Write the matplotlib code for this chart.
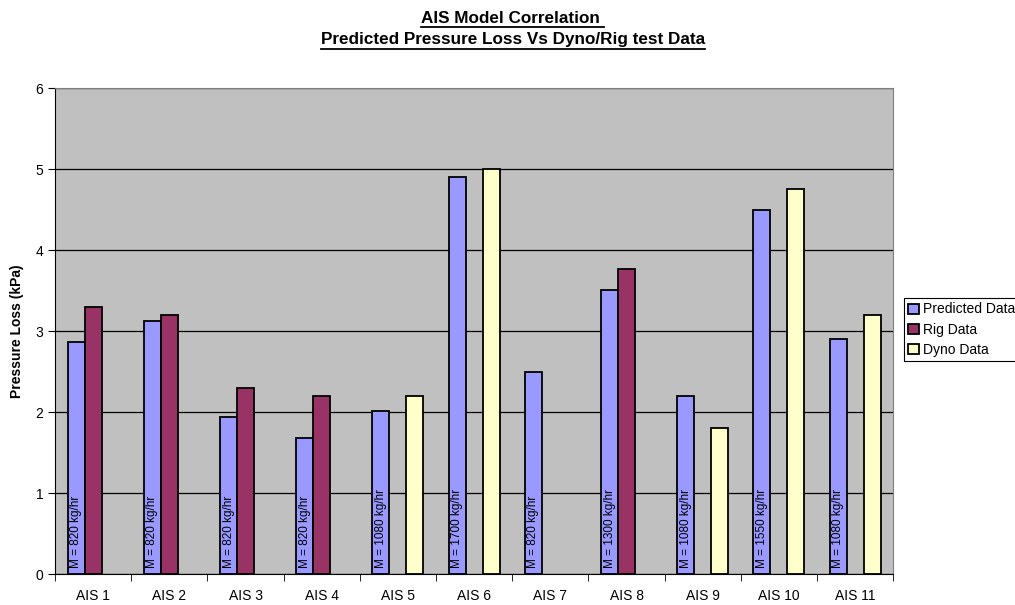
import numpy as np
import matplotlib.pyplot as plt
from matplotlib.lines import Line2D

plt.rcParams['font.family'] = ['Liberation Sans', 'DejaVu Sans']

# Data
categories = ["AIS 1", "AIS 2", "AIS 3", "AIS 4", "AIS 5", "AIS 6",
              "AIS 7", "AIS 8", "AIS 9", "AIS 10", "AIS 11"]
predicted = [2.86, 3.12, 1.94, 1.68, 2.01, 4.9, 2.5, 3.51, 2.2, 4.5, 2.9]
rig = [3.3, 3.2, 2.3, 2.2, None, None, None, 3.77, None, None, None]
dyno = [None, None, None, None, 2.2, 5.0, None, None, 1.8, 4.75, 3.2]
mass_flow = ["820", "820", "820", "820", "1080", "1700",
             "820", "1300", "1080", "1550", "1080"]

series = [("Predicted Data", predicted, "#9999FF"),
          ("Rig Data", rig, "#993366"),
          ("Dyno Data", dyno, "#FFFFCC")]


def main():
    fig = plt.figure(figsize=(10.15, 6.05), dpi=100)
    ax = fig.add_axes([0.0542, 0.0512, 0.8258, 0.8033])
    ax.set_facecolor("#C0C0C0")

    x = np.arange(len(categories))
    width = 0.223
    for i, (name, vals, color) in enumerate(series):
        xs = [xi + (i - 1) * width for xi, v in zip(x, vals) if v is not None]
        ys = [v for v in vals if v is not None]
        ax.bar(xs, ys, width=width, color=color, edgecolor="black",
               linewidth=1.3, label=name, zorder=3)

    # mass flow labels inside predicted bars
    for xi, m in zip(x, mass_flow):
        ax.text(xi - width, 0.07, f"M = {m} kg/hr", rotation=90,
                ha="center", va="bottom", fontsize=8.5, zorder=4)

    ax.set_xlim(-0.5, len(categories) - 0.5)
    ax.set_ylim(0, 6)
    ax.set_yticks(range(7))
    ax.yaxis.grid(True, color="black", linewidth=0.9, zorder=0)
    ax.set_axisbelow(True)

    ax.set_xticks(x)
    ax.set_xticklabels(categories, fontsize=10)
    ax.set_xticks(np.arange(-0.5, len(categories)), minor=True)
    ax.tick_params(axis="x", which="major", length=0, pad=11)
    ax.tick_params(axis="x", which="minor", length=5, direction="out")
    ax.tick_params(axis="y", labelsize=10, length=5, direction="out")

    for side in ("top", "right"):
        ax.spines[side].set_color("#808080")
    ax.spines["left"].set_color("black")
    ax.spines["bottom"].set_color("black")

    ax.set_ylabel("Pressure Loss (kPa)", fontsize=10, fontweight="bold",
                  labelpad=8)

    leg = ax.legend(loc="upper left", bbox_to_anchor=(0.8906, 0.507),
                    bbox_transform=fig.transFigure, fancybox=False,
                    framealpha=1, edgecolor="black", fontsize=10,
                    handlelength=0.75, handleheight=0.75, handletextpad=0.3,
                    borderpad=0.3, labelspacing=0.45, borderaxespad=0)
    leg.get_frame().set_linewidth(0.8)

    # underlined two-line title
    titles = [("AIS Model Correlation ", 0.970),
              ("Predicted Pressure Loss Vs Dyno/Rig test Data", 0.934)]
    fig.canvas.draw()
    renderer = fig.canvas.get_renderer()
    for txt, yy in titles:
        t = fig.text(0.505, yy, txt, ha="center", va="center",
                     fontsize=12.3, fontweight="bold")
        bb = t.get_window_extent(renderer).transformed(fig.transFigure.inverted())
        fig.add_artist(Line2D([bb.x0, bb.x1], [bb.y0 - 0.002, bb.y0 - 0.002],
                              color="black", linewidth=1.3,
                              transform=fig.transFigure))

    fig.savefig("out.png", dpi=100)
    plt.close(fig)


if __name__ == "__main__":
    main()
